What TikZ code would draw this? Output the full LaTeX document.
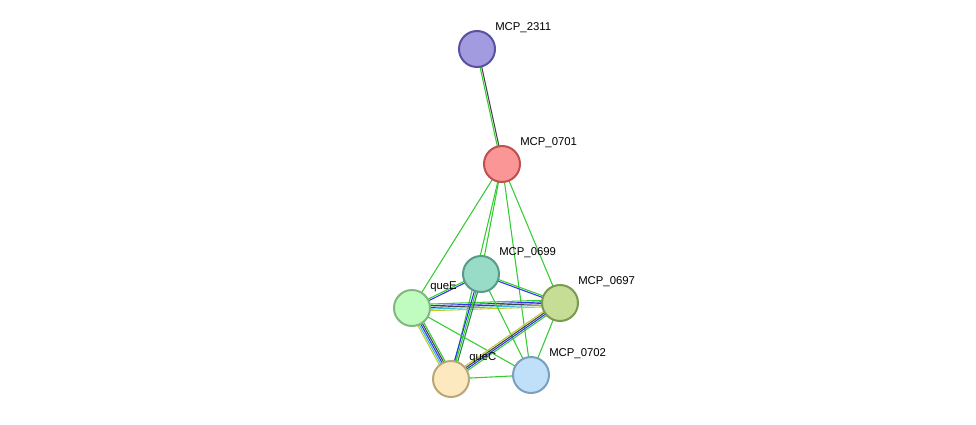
\documentclass[tikz,border=0pt]{standalone}
\usepackage{fontspec}
\setmainfont{Liberation Sans}
\usetikzlibrary{calc}
\definecolor{eg}{HTML}{33CC33}
\definecolor{eb}{HTML}{3333EE}
\definecolor{ec}{HTML}{33BBDD}
\definecolor{ey}{HTML}{BBCC33}
\definecolor{ek}{HTML}{444444}
\definecolor{ed}{HTML}{228844}
\tikzset{
 prot/.style={circle,minimum size=27pt,inner sep=0pt,line width=1.5pt},
 lab/.style={anchor=west,font=\fontsize{8.5}{10}\selectfont,text=black,inner sep=0pt},
}
\newcommand{\multiedge}[4]{% a b n colors
 \foreach \c [count=\i] in {#4}{
  \pgfmathsetmacro{\o}{(\i-(#3+1)/2)*1.25}
  \draw[\c,line width=0.8pt] ($(#1)!\o pt!90:(#2)$) -- ($(#2)!\o pt!-90:(#1)$);
 }}
\begin{document}
\begin{tikzpicture}[x=0.75pt,y=-0.75pt]
\useasboundingbox (0,0) rectangle (976,425);
\coordinate (p2311) at (477,49);
\coordinate (p0701) at (502,164);
\coordinate (p0699) at (481,274);
\coordinate (p0697) at (560,303);
\coordinate (pqueE) at (412,308);
\coordinate (pqueC) at (451,379);
\coordinate (p0702) at (531,375);
\multiedge{p2311}{p0701}{2}{eg,ek}
\multiedge{p0701}{pqueE}{1}{eg}
\multiedge{p0701}{p0699}{1}{eg}
\multiedge{p0701}{pqueC}{1}{eg}
\multiedge{p0701}{p0697}{1}{eg}
\multiedge{p0701}{p0702}{1}{eg}
\multiedge{pqueE}{p0697}{5}{ey,ec,ek,eb,eg}
\multiedge{pqueE}{p0699}{2}{eb,eg}
\multiedge{p0699}{p0697}{2}{eb,eg}
\multiedge{p0699}{pqueC}{3}{eb,eg,ed}
\multiedge{p0699}{p0702}{1}{eg}
\multiedge{pqueE}{pqueC}{5}{ey,ec,eb,ek,eg}
\multiedge{pqueE}{p0702}{1}{eg}
\multiedge{p0697}{pqueC}{4}{ey,ek,eb,eg}
\multiedge{p0697}{p0702}{1}{eg}
\multiedge{pqueC}{p0702}{1}{eg}
\node[prot,fill={rgb,255:red,163;green,155;blue,224},draw={rgb,255:red,90;green,82;blue,160}] (n2311) at (p2311) {};
\node[prot,fill={rgb,255:red,250;green,150;blue,150},draw={rgb,255:red,192;green,80;blue,80}] (n0701) at (p0701) {};
\node[prot,fill={rgb,255:red,152;green,220;blue,200},draw={rgb,255:red,90;green,154;blue,136}] (n0699) at (p0699) {};
\node[prot,fill={rgb,255:red,197;green,221;blue,149},draw={rgb,255:red,122;green,154;blue,80}] (n0697) at (p0697) {};
\node[prot,fill={rgb,255:red,192;green,252;blue,192},draw={rgb,255:red,128;green,184;blue,128}] (nqueE) at (pqueE) {};
\node[prot,fill={rgb,255:red,253;green,233;blue,192},draw={rgb,255:red,184;green,168;blue,120}] (nqueC) at (pqueC) {};
\node[prot,fill={rgb,255:red,192;green,224;blue,250},draw={rgb,255:red,122;green,160;blue,192}] (n0702) at (p0702) {};
\node[lab] at ($(p2311)+(18,-21)$) {MCP\_2311};
\node[lab] at ($(p0701)+(18,-21)$) {MCP\_0701};
\node[lab] at ($(p0699)+(18,-21)$) {MCP\_0699};
\node[lab] at ($(p0697)+(18,-21)$) {MCP\_0697};
\node[lab] at ($(pqueE)+(18,-21)$) {queE};
\node[lab] at ($(pqueC)+(18,-21)$) {queC};
\node[lab] at ($(p0702)+(18,-21)$) {MCP\_0702};
\end{tikzpicture}
\end{document}
